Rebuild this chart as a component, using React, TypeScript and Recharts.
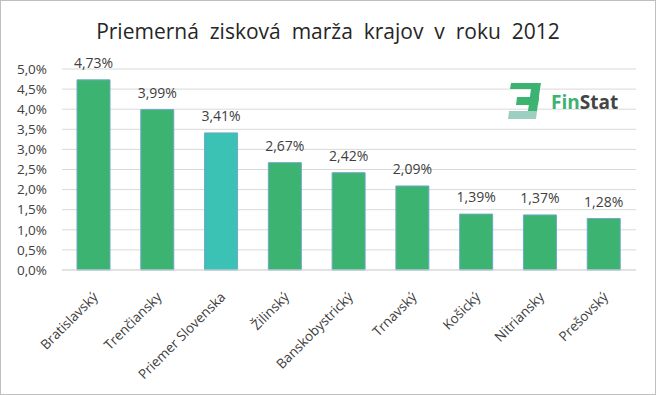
import React from 'react';
import { BarChart, Bar, XAxis, YAxis, CartesianGrid, Cell, LabelList } from 'recharts';

const regions = [
  'Bratislavský',
  'Trenčiansky',
  'Priemer Slovenska',
  'Žilinský',
  'Banskobystrický',
  'Trnavský',
  'Košický',
  'Nitriansky',
  'Prešovský',
];
const margins = [4.73, 3.99, 3.41, 2.67, 2.42, 2.09, 1.39, 1.37, 1.28];
const yTicks = [0, 0.5, 1, 1.5, 2, 2.5, 3, 3.5, 4, 4.5, 5];

const GREEN = '#3CB371';
const TEAL = '#3CC1B5';
const FONT = '"Open Sans", "Noto Sans", sans-serif';

const data = regions.map((name, i) => ({ name, value: margins[i] }));

const pct = (v: number, digits: number) => v.toFixed(digits).replace('.', ',') + '%';

const AngledTick = (props: any) => {
  const { x, y, payload } = props;
  return (
    <g transform={`translate(${x + 2},${y + 17})`}>
      <text
        x={0}
        y={0}
        dy={4}
        textAnchor="end"
        transform="rotate(-45)"
        fill="#404040"
        fontSize={13.5}
        fontFamily={FONT}
      >
        {payload.value}
      </text>
    </g>
  );
};

const Logo = () => (
  <div style={{ position: 'absolute', left: 506, top: 82, display: 'flex', alignItems: 'center' }}>
    <svg width={36} height={38} viewBox="0 0 36 38">
      <polygon points="4,0 34,0 33,6 3,6" fill={GREEN} />
      <polygon points="10,14 32,14 31,22 9,22" fill={GREEN} />
      <polygon points="2,28 30,28 29,36 1,36" fill="#9ccfc0" />
      <polygon points="24,6 33,6 30,28 21,28" fill={GREEN} />
    </svg>
    <span style={{ fontFamily: FONT, fontWeight: 700, fontSize: 19, marginLeft: 8, color: GREEN }}>
      Fin<span style={{ color: '#444' }}>Stat</span>
    </span>
  </div>
);

export default function App() {
  return (
    <div
      style={{
        position: 'absolute',
        left: 0,
        top: 0,
        width: 654,
        height: 393,
        border: '1px solid #BFBFBF',
        background: '#fff',
        overflow: 'hidden',
      }}
    >
      <div
        style={{
          position: 'absolute',
          left: 0,
          top: 16,
          width: 654,
          textAlign: 'center',
          fontFamily: FONT,
          fontSize: 21,
          color: '#262626',
          whiteSpace: 'pre',
        }}
      >
        {'Priemerná  zisková  marža  krajov  v  roku  2012'}
      </div>
      <BarChart
        width={654}
        height={393}
        data={data}
        margin={{ top: 68, right: 19, bottom: 0, left: 0 }}
      >
        <CartesianGrid vertical={false} stroke="#D9D9D9" />
        <XAxis
          dataKey="name"
          interval={0}
          height={124}
          tick={<AngledTick />}
          tickLine={false}
          axisLine={{ stroke: '#D9D9D9' }}
        />
        <YAxis
          width={61}
          domain={[0, 5]}
          ticks={yTicks}
          interval={0}
          tickFormatter={(v: number) => pct(v, 1)}
          tick={{ fill: '#404040', fontSize: 13.5, fontFamily: FONT }}
          tickLine={false}
          axisLine={false}
          tickSize={0}
          tickMargin={15}
        />
        <Bar dataKey="value" barSize={33} isAnimationActive={false} stroke="#6FA8C8" strokeWidth={1}>
          {data.map((d, i) => (
            <Cell key={d.name} fill={i === 2 ? TEAL : GREEN} />
          ))}
          <LabelList
            dataKey="value"
            position="top"
            offset={12}
            formatter={(v: any) => pct(Number(v), 2)}
            fill="#404040"
            fontSize={14}
            fontFamily={FONT}
          />
        </Bar>
      </BarChart>
      <Logo />
    </div>
  );
}
